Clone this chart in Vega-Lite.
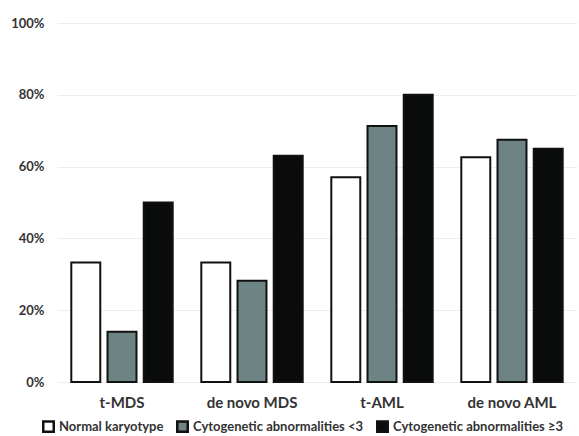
{
  "$schema": "https://vega.github.io/schema/vega-lite/v6.json",
  "width": 520,
  "height": 359,
  "autosize": {"type": "none"},
  "padding": {"left": 57, "top": 23, "right": 2, "bottom": 54},
  "background": "white",
  "config": {"font": "Lato", "view": {"stroke": null}},
  "data": {
    "values": [
      {"group": "t-MDS", "type": "Normal karyotype", "pct": 33.3},
      {"group": "t-MDS", "type": "Cytogenetic abnormalities <3", "pct": 14.0},
      {"group": "t-MDS", "type": "Cytogenetic abnormalities ≥3", "pct": 50.0},
      {"group": "de novo MDS", "type": "Normal karyotype", "pct": 33.3},
      {"group": "de novo MDS", "type": "Cytogenetic abnormalities <3", "pct": 28.2},
      {"group": "de novo MDS", "type": "Cytogenetic abnormalities ≥3", "pct": 63.0},
      {"group": "t-AML", "type": "Normal karyotype", "pct": 57.0},
      {"group": "t-AML", "type": "Cytogenetic abnormalities <3", "pct": 71.3},
      {"group": "t-AML", "type": "Cytogenetic abnormalities ≥3", "pct": 80.0},
      {"group": "de novo AML", "type": "Normal karyotype", "pct": 62.6},
      {"group": "de novo AML", "type": "Cytogenetic abnormalities <3", "pct": 67.5},
      {"group": "de novo AML", "type": "Cytogenetic abnormalities ≥3", "pct": 65.0}
    ]
  },
  "mark": {"type": "bar", "stroke": "#111111", "strokeWidth": 2},
  "encoding": {
    "x": {
      "field": "group", "type": "nominal",
      "sort": ["t-MDS", "de novo MDS", "t-AML", "de novo AML"],
      "scale": {"paddingInner": 0.22, "paddingOuter": 0.11},
      "axis": {"title": null, "labelAngle": 0, "domain": false, "ticks": false, "labelPadding": 13, "labelFontSize": 15, "labelFontWeight": "bold", "labelColor": "#333333"}
    },
    "xOffset": {
      "field": "type", "type": "nominal",
      "sort": ["Normal karyotype", "Cytogenetic abnormalities <3", "Cytogenetic abnormalities ≥3"],
      "scale": {"paddingInner": 0.2, "paddingOuter": 0}
    },
    "y": {
      "field": "pct", "type": "quantitative",
      "scale": {"domain": [0, 100]},
      "axis": {"title": null, "values": [0, 20, 40, 60, 80, 100], "labelExpr": "datum.value + '%'", "domain": false, "ticks": false, "gridColor": "#eeeeee", "labelPadding": 13, "labelFontSize": 13, "labelFontWeight": "bold", "labelColor": "#333333"}
    },
    "fill": {
      "field": "type", "type": "nominal",
      "sort": ["Normal karyotype", "Cytogenetic abnormalities <3", "Cytogenetic abnormalities ≥3"],
      "scale": {"domain": ["Normal karyotype", "Cytogenetic abnormalities <3", "Cytogenetic abnormalities ≥3"], "range": ["#ffffff", "#6e8383", "#0a0c0b"]},
      "legend": {"title": null, "orient": "none", "legendX": -15, "legendY": 397, "direction": "horizontal", "symbolType": "square", "symbolSize": 110, "symbolStrokeWidth": 2.5, "symbolStrokeColor": "#111111", "labelFontSize": 13, "labelFontWeight": "bold", "labelColor": "#333333", "columnPadding": 8, "labelLimit": 300, "labelOffset": 4}
    }
  }
}
